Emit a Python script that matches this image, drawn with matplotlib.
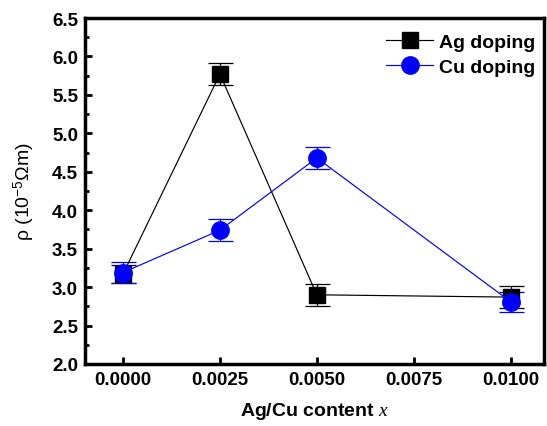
import matplotlib
matplotlib.use("Agg")
import matplotlib.pyplot as plt
from matplotlib.ticker import MultipleLocator

plt.rcParams['font.family'] = ['Liberation Sans', 'DejaVu Sans']
plt.rcParams['mathtext.fontset'] = 'custom'
plt.rcParams['mathtext.rm'] = 'Liberation Sans'
plt.rcParams['mathtext.it'] = 'Liberation Serif:italic'

# data
content = [0.0, 0.0025, 0.005, 0.01]
ag_rho = [3.17, 5.77, 2.90, 2.87]
ag_err = [0.12, 0.14, 0.14, 0.14]
cu_rho = [3.19, 3.74, 4.68, 2.81]
cu_err = [0.14, 0.14, 0.14, 0.13]

fig = plt.figure(figsize=(5.47, 4.27), dpi=100)
ax = fig.add_axes([0.1554, 0.1452, 0.8391, 0.8103])

# error bars first, then lines with markers (legend shows plain lines)
ax.errorbar(content, ag_rho, yerr=ag_err, fmt='none', ecolor='black',
            capsize=9, elinewidth=0.9, capthick=0.9)
ax.errorbar(content, cu_rho, yerr=cu_err, fmt='none', ecolor='blue',
            capsize=9, elinewidth=0.9, capthick=0.9)
ax.plot(content, ag_rho, color='black', lw=0.85, marker='s', ms=11,
        label='Ag doping')
ax.plot(content, cu_rho, color='blue', lw=0.85, marker='o', ms=12.5,
        label='Cu doping')

ax.set_xlim(-0.00098, 0.01086)
ax.set_ylim(2.0, 6.5)
ax.set_xticks([0.0, 0.0025, 0.005, 0.0075, 0.01])
ax.set_xticklabels(['0.0000', '0.0025', '0.0050', '0.0075', '0.0100'])
ax.yaxis.set_major_locator(MultipleLocator(0.5))
ax.yaxis.set_minor_locator(MultipleLocator(0.25))
ax.tick_params(axis='both', which='major', direction='in', length=5, width=2,
               labelsize=13.5, pad=5)
ax.tick_params(axis='y', which='minor', direction='in', length=3, width=2)
for lab in ax.get_xticklabels() + ax.get_yticklabels():
    lab.set_fontweight('bold')
for s in ax.spines.values():
    s.set_linewidth(2.5)

ax.set_xlabel(r'Ag/Cu content $x$', fontsize=14, fontweight='bold', labelpad=9)
ax.set_ylabel(r'ρ (10$^{-5}$Ωm)', fontsize=14, labelpad=11)

ax.legend(loc='upper right', bbox_to_anchor=(1.0, 0.98), frameon=False,
          prop={'weight': 'bold', 'size': 14}, handlelength=2.4,
          handletextpad=0.3, borderaxespad=0.05, labelspacing=0.35)

fig.savefig('out.png', dpi=100)
